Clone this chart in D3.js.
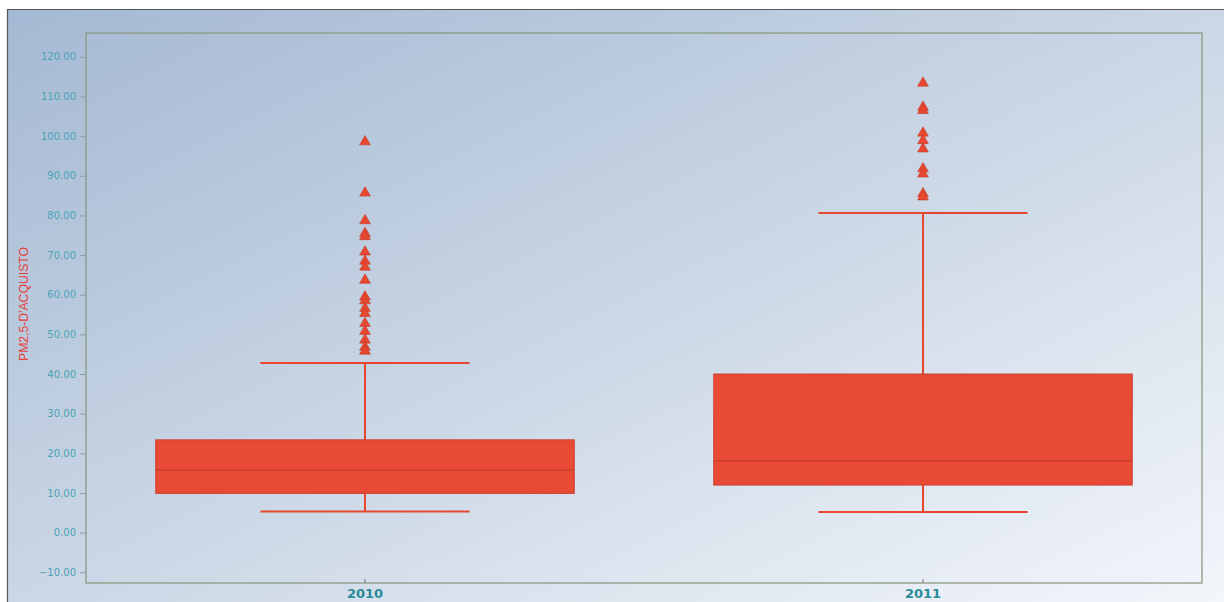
<!DOCTYPE html>
<html><head><meta charset="utf-8">
<script src="https://cdn.jsdelivr.net/npm/d3@7"></script>
<style>body{margin:0;background:#fff;}svg{display:block;}</style>
</head><body>
<svg id="chart" width="1224" height="602"></svg>
<script>
const categories = ["2010", "2011"];
const q1 = [9.9, 12.0];
const median = [15.8, 18.1];
const q3 = [23.4, 40.0];
const whiskerLow = [5.3, 5.2];
const whiskerHigh = [42.8, 80.6];
const outliers2010 = [98.7, 85.8, 78.8, 75.6, 74.8, 70.9, 68.6, 67.1, 63.8, 59.6, 58.6, 56.7, 55.4, 52.9, 50.9, 48.7, 46.9, 45.9];
const outliers2011 = [113.5, 107.4, 106.6, 100.9, 99.0, 96.9, 91.9, 90.6, 85.6, 84.8];
const outliers = [outliers2010, outliers2011];
const yTicks = [-10, 0, 10, 20, 30, 40, 50, 60, 70, 80, 90, 100, 110, 120];
const yLabel = "PM2,5-D'ACQUISTO";

const svg = d3.select("#chart");
const W = 1224, H = 602;
const plot = {left: 86, top: 33, right: 1202, bottom: 583};

const defs = svg.append("defs");
const grad = defs.append("linearGradient").attr("id", "bg")
  .attr("x1", "0").attr("y1", "0").attr("x2", "1").attr("y2", "1");
grad.append("stop").attr("offset", "0%").attr("stop-color", "#a4b9d3");
grad.append("stop").attr("offset", "45%").attr("stop-color", "#c6d3e3");
grad.append("stop").attr("offset", "100%").attr("stop-color", "#f3f6fb");

svg.append("rect").attr("x", 7).attr("y", 9).attr("width", W - 7).attr("height", H - 9)
  .attr("fill", "url(#bg)");
svg.append("line").attr("x1", 7).attr("x2", W).attr("y1", 9.5).attr("y2", 9.5)
  .attr("stroke", "#555").attr("stroke-width", 1.2);
svg.append("line").attr("x1", 7.5).attr("x2", 7.5).attr("y1", 9).attr("y2", H)
  .attr("stroke", "#555").attr("stroke-width", 1.2);

const y = d3.scaleLinear().domain([-12.7, 126]).range([plot.bottom, plot.top]);
const x = d3.scaleBand().domain(categories).range([plot.left, plot.right]).padding(0);

svg.append("rect").attr("x", plot.left).attr("y", plot.top)
  .attr("width", plot.right - plot.left).attr("height", plot.bottom - plot.top)
  .attr("fill", "none").attr("stroke", "#8b9a82").attr("stroke-width", 1.3);

// y axis
const yAxis = svg.append("g").attr("transform", `translate(${plot.left},0)`)
  .call(d3.axisLeft(y).tickValues(yTicks).tickFormat(d3.format(".2f")).tickSize(6).tickPadding(4));
yAxis.select(".domain").remove();
yAxis.selectAll(".tick line").attr("stroke", "#8aa0a8");
yAxis.selectAll(".tick text").attr("fill", "#4aa3b5").attr("font-family", "DejaVu Sans, sans-serif")
  .attr("font-size", 10);

// x axis
const xAxis = svg.append("g").attr("transform", `translate(0,${plot.bottom})`)
  .call(d3.axisBottom(x).tickSize(-4).tickPadding(8));
xAxis.select(".domain").remove();
xAxis.selectAll(".tick line").attr("stroke", "#777");
xAxis.selectAll(".tick text").attr("fill", "#2a8b99").attr("font-family", "DejaVu Sans, sans-serif")
  .attr("font-size", 13).attr("font-weight", "bold").attr("dy", "0.55em");

// y label
svg.append("text").attr("transform", `translate(28,304) rotate(-90)`)
  .attr("text-anchor", "middle").attr("fill", "#e6403a")
  .attr("font-family", "Liberation Sans Narrow, Arial Narrow, Liberation Sans, sans-serif")
  .attr("font-size", 13)
  .attr("textLength", 114).attr("lengthAdjust", "spacingAndGlyphs")
  .text(yLabel);

const red = "#e8472f";
const boxW = x.bandwidth() * 0.75;
const capW = boxW * 0.5;

categories.forEach((c, i) => {
  const cx = x(c) + x.bandwidth() / 2;
  const g = svg.append("g");
  g.append("line").attr("x1", cx).attr("x2", cx).attr("y1", y(whiskerLow[i])).attr("y2", y(whiskerHigh[i]))
    .attr("stroke", red).attr("stroke-width", 2);
  [whiskerLow[i], whiskerHigh[i]].forEach(v => {
    g.append("line").attr("x1", cx - capW / 2).attr("x2", cx + capW / 2).attr("y1", y(v)).attr("y2", y(v))
      .attr("stroke", red).attr("stroke-width", 2);
  });
  g.append("rect").attr("x", cx - boxW / 2).attr("y", y(q3[i]))
    .attr("width", boxW).attr("height", y(q1[i]) - y(q3[i]))
    .attr("fill", "#e84a35").attr("stroke", "#c9412f").attr("stroke-width", 1);
  g.append("line").attr("x1", cx - boxW / 2).attr("x2", cx + boxW / 2)
    .attr("y1", y(median[i])).attr("y2", y(median[i])).attr("stroke", "#b8382a").attr("stroke-width", 1);
  const tri = d3.symbol().type(d3.symbolTriangle).size(50);
  g.selectAll("path.out").data(outliers[i]).join("path").attr("class", "out")
    .attr("d", tri).attr("transform", d => `translate(${cx},${y(d) + 0.5})`)
    .attr("fill", red).attr("stroke", "#c43a28").attr("stroke-width", 0.6);
});
</script>
</body></html>
